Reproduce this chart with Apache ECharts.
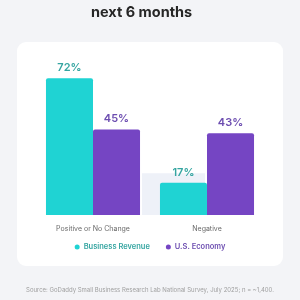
<!DOCTYPE html>
<html><head><meta charset="utf-8">
<script src="https://cdn.jsdelivr.net/npm/echarts@6/dist/echarts.min.js"></script>
<style>html,body{margin:0;padding:0;background:#f3f4f7;}#c{width:300px;height:300px;}</style>
</head><body><div id="c"></div>
<script>
const titleText = "next 6 months";
const categories = ["Positive or No Change", "Negative"];
const seriesNames = ["Business Revenue", "U.S. Economy"];
const businessRevenue = [72, 17];
const usEconomy = [45, 43];
const bandValue = 22;
const sourceText = "Source: GoDaddy Small Business Research Lab National Survey, July 2025; n = ~1,400.";

const teal = "#1fd3d3", purple = "#7545c3";
const tealText = "#35a5a1", purpleText = "#6c4db0";
const chart = echarts.init(document.getElementById('c'), null, {renderer:'canvas'});
const font = "Inter, 'Noto Sans', sans-serif";
const gridLeft = 36, gridW = 228, gridTop = 63, gridH = 152;
const option = {
  backgroundColor: "#f3f4f7",
  animation: false,
  title: {text: titleText, left: 86, top: 0,
    textStyle:{fontFamily: font, fontWeight: 700, fontSize: 14.5, color:'#262626'}},
  grid: {left: gridLeft, top: gridTop, width: gridW, height: gridH},
  xAxis: {type:'category', data: categories,
    axisLine:{show:false}, axisTick:{show:false},
    axisLabel:{fontFamily: font, fontSize: 7, color:'#6a6a6a', margin: 10}},
  yAxis: {type:'value', min:0, max:80, show:false, splitLine:{show:false}},
  legend: {top: 238, left: 'center', itemWidth: 5, itemHeight: 5, itemGap: 16,
    icon:'circle',
    data: [
      {name: seriesNames[0], textStyle:{color: tealText}},
      {name: seriesNames[1], textStyle:{color: purpleText}}
    ],
    textStyle:{fontFamily: font, fontSize: 7.5, fontWeight: 600, padding:[0,0,0,-1]}},
  series: [
    {name: seriesNames[0], type:'bar', data: businessRevenue, barGap:'0%', barCategoryGap:'17.5%', z: 3,
     itemStyle:{color: teal, borderRadius:[2,2,0,0]},
     label:{show:true, position:'top', distance:5, formatter:'{c}%', fontFamily: font, fontWeight:600, fontSize:11, color: tealText}},
    {name: seriesNames[1], type:'bar', data: usEconomy, z: 3,
     itemStyle:{color: purple, borderRadius:[2,2,0,0]},
     label:{show:true, position:'top', distance:5, formatter:'{c}%', fontFamily: font, fontWeight:600, fontSize:11, color: purpleText}}
  ],
  graphic: []
};
chart.setOption(option);
const y0 = chart.convertToPixel({yAxisIndex:0}, 0);
const yb = chart.convertToPixel({yAxisIndex:0}, bandValue);
const cx0 = chart.convertToPixel({xAxisIndex:0}, categories[0]);
const cx1 = chart.convertToPixel({xAxisIndex:0}, categories[1]);
const catW = cx1 - cx0;
const barW = catW * (1 - 0.175) / 2;
chart.setOption({graphic:[
  {type:'rect', z:-10, shape:{x:17, y:42, width:266, height:224, r:9}, style:{fill:'#ffffff'}},
  {type:'rect', z:-5, shape:{x: cx0 + barW + 2, y: yb, width: (cx1 - 2) - (cx0 + barW + 2), height: y0 - yb}, style:{fill:'#eef1f8'}},
  {type:'text', left:'center', top: 287, style:{text: sourceText, fontFamily: font, fontSize: 6, fill:'#a0a0a0'}}
]});
</script></body></html>
